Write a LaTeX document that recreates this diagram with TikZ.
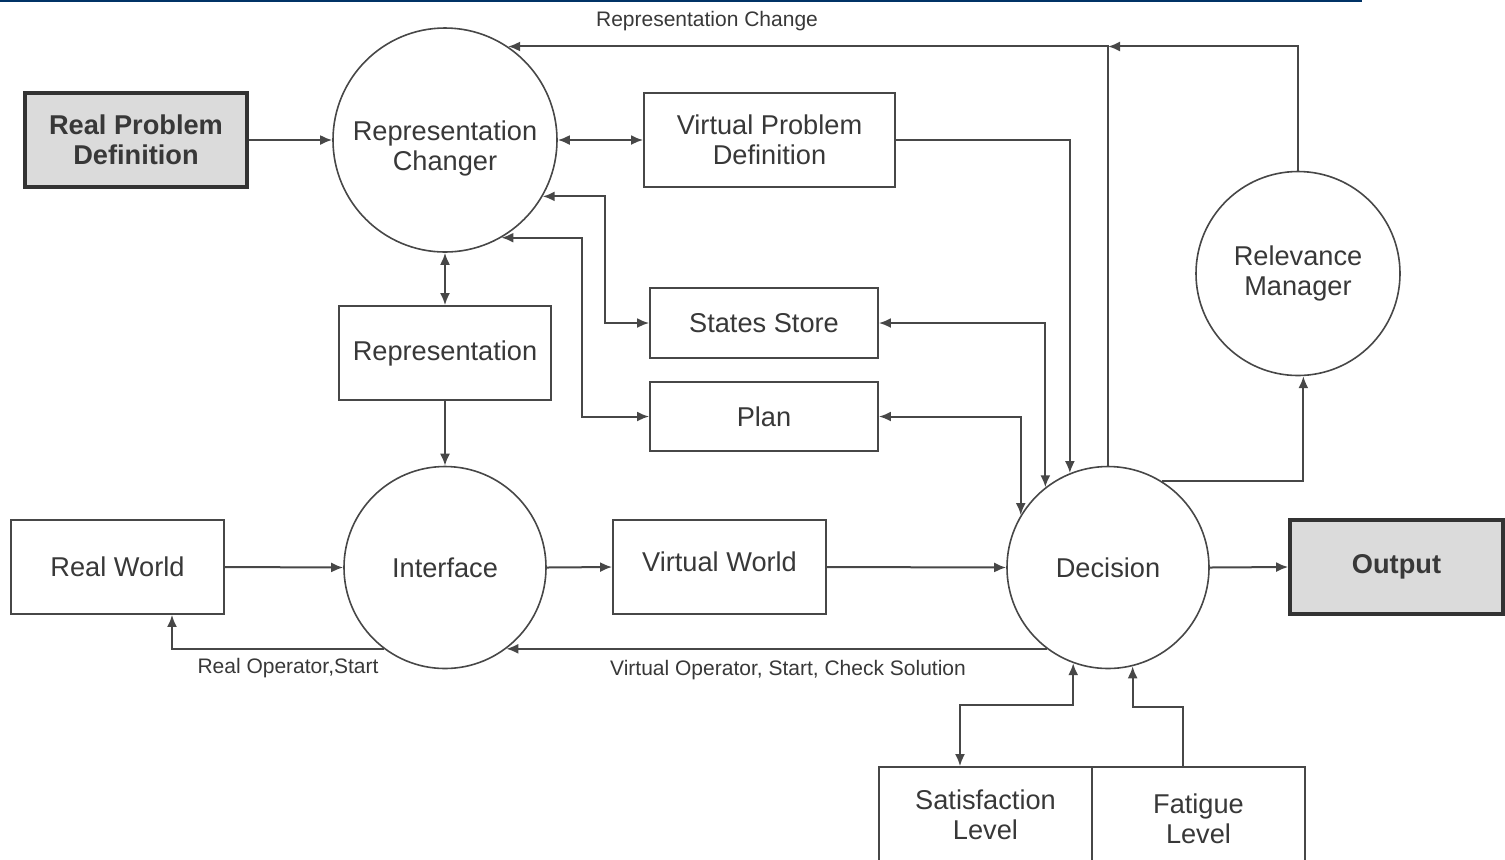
\documentclass[tikz,border=0pt]{standalone}
\usepackage{fontspec}
\setmainfont{Liberation Sans}
\usetikzlibrary{arrows.meta}
\definecolor{lin}{gray}{0.28}
\definecolor{txt}{gray}{0.22}
\definecolor{boxfill}{gray}{0.86}
\definecolor{topblue}{RGB}{0,51,102}
\tikzset{
  x=0.5pt, y=-0.5pt,
  tip/.tip={Latex[length=6pt,width=5pt]},
  base/.style={text=txt, font=\fontsize{13.6}{15}\selectfont, align=center, inner sep=0pt},
  plainbox/.style={base, draw=lin, line width=0.9pt, rectangle},
  boldbox/.style={base, draw=black!80, line width=1.8pt, fill=boxfill, rectangle, font=\fontsize{13.6}{15}\selectfont\bfseries},
  circ/.style={base, draw=lin, line width=0.8pt, circle},
  conn/.style={draw=lin, line width=1pt},
  lbl/.style={text=txt, font=\fontsize{10.5}{12}\selectfont, inner sep=0pt},
}
\begin{document}
\begin{tikzpicture}
\useasboundingbox (0,0) rectangle (1505,859);
\clip (0,0) rectangle (1505,859);
\draw[topblue, line width=1.2pt] (0,1) -- (1362,1);

% nodes
\node[boldbox, minimum width=111pt, minimum height=47pt] (rpd) at (136,140) {Real Problem\\Definition};
\node[circ, minimum size=112pt] (rc) at (445,140) {\rule{0pt}{18pt}Representation\\Changer};
\node[plainbox, minimum width=125.5pt, minimum height=47pt] (vpd) at (769.5,140) {Virtual Problem\\Definition};
\node[circ, minimum size=102pt] (rm) at (1298,273.5) {Relevance\\Manager};
\node[plainbox, minimum width=106pt, minimum height=47pt] (rep) at (445,353) {Representation};
\node[plainbox, minimum width=114pt, minimum height=35pt] (ss) at (764,323) {States Store};
\node[plainbox, minimum width=114pt, minimum height=34.5pt] (plan) at (764,416.5) {Plan};
\node[circ, minimum size=101pt] (intf) at (445,567.5) {Interface};
\node[plainbox, minimum width=106.5pt, minimum height=47pt] (rw) at (117.5,567) {Real World};
\node[plainbox, minimum width=106.5pt, minimum height=47pt] (vw) at (719.5,567) {Virtual World\rule[-5pt]{0pt}{5pt}};
\node[circ, minimum size=101pt] (dec) at (1108,567.5) {Decision};
\node[boldbox, minimum width=106.5pt, minimum height=47pt] (out) at (1396.5,567) {Output};
\node[plainbox, minimum width=106.5pt, minimum height=51.5pt] (sat) at (985.5,818.5) {Satisfaction\\Level\rule[-4pt]{0pt}{4pt}};
\node[plainbox, minimum width=106.5pt, minimum height=51.5pt] (fat) at (1198.5,818.5) {Fatigue\\Level};

% helper coordinates
\coordinate (topj) at (dec.north |- rc.56);
\coordinate (xa) at (605,0);
\coordinate (xb) at (582,0);
\coordinate (xc) at (172,0);
\coordinate (sj) at (960,705);
\coordinate (fj) at (1183,707);

% connectors
\draw[conn,-tip] (rpd.east) -- (rc.west);
\draw[conn,tip-tip] (rc.east) -- (vpd.west);
\draw[conn,-tip] (dec.north) -- (topj) -- (rc.56);
\draw[conn,-tip] (rm.north) |- (topj);
\draw[conn,-tip] (vpd.east) -| (dec.112);
\draw[conn,tip-tip] (ss.east) -| (dec.128);
\draw[conn,tip-tip] (plan.east) -| (dec.149);
\draw[conn,tip-tip] (rc.-30) -- (rc.-30 -| xa) |- (ss.west);
\draw[conn,tip-tip] (rc.-60) -- (rc.-60 -| xb) |- (plan.west);
\draw[conn,tip-tip] (rc.south) -- (rep.north);
\draw[conn,-tip] (rep.south) -- (intf.north);
\draw[conn,-tip] (rw.east) -- (intf.west);
\draw[conn,-tip] (intf.east) -- (vw.west);
\draw[conn,-tip] (vw.east) -- (dec.west);
\draw[conn,-tip] (dec.east) -- (out.west);
\draw[conn,-tip] (intf.233) -| (xc |- rw.south);
\draw[conn,-tip] (dec.233) -- (intf.-53);
\draw[conn,-tip] (dec.58) -| (rm.-87);
\draw[conn,tip-tip] (dec.-110) |- (sj) -- (sj |- sat.north);
\draw[conn,-tip] (fj |- fat.north) -- (fj) -| (dec.-76);

% labels
\node[lbl] (lrc) at (707,21) {Representation Change};
\node[lbl] (lro) at (288,668) {Real Operator,Start};
\node[lbl] (lvo) at (788,670) {Virtual Operator, Start, Check Solution};
\end{tikzpicture}
\end{document}
